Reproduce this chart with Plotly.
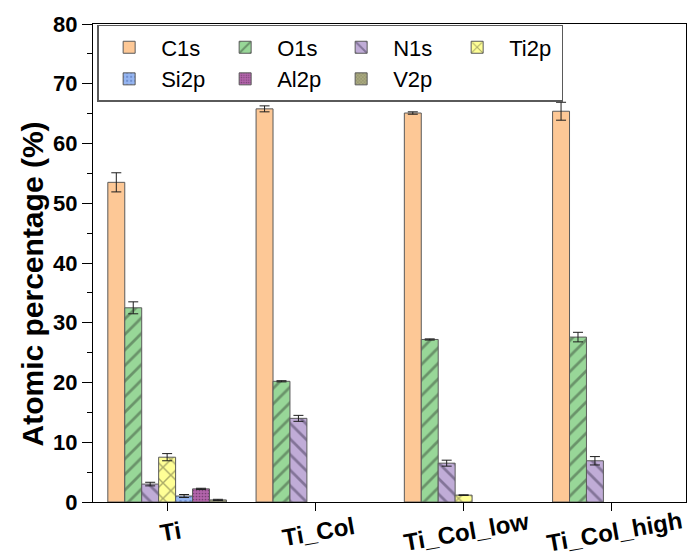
import plotly.graph_objects as go

samples = ["Ti", "Ti_Col", "Ti_Col_low", "Ti_Col_high"]

# Atomic percentages (mean) and standard deviations per core level;
# None marks an element that was not detected on that surface
c1s = [53.5, 65.8, 65.1, 65.4]
c1s_err = [1.6, 0.5, 0.2, 1.5]
o1s = [32.5, 20.2, 27.2, 27.6]
o1s_err = [1.0, 0.1, 0.1, 0.8]
n1s = [3.0, 14.0, 6.5, 6.9]
n1s_err = [0.3, 0.5, 0.5, 0.7]
ti2p = [7.5, None, 1.15, None]
ti2p_err = [0.6, None, 0.05, None]
si2p = [1.0, None, None, None]
si2p_err = [0.25, None, None, None]
al2p = [2.2, None, None, None]
al2p_err = [0.1, None, None, None]
v2p = [0.35, None, None, None]
v2p_err = [0.1, None, None, None]

FONT = "Liberation Sans, Arial, sans-serif"

# name, values, errors, fill colour, hatch shape, hatch colour, hatch size, legend column
series = [
    ("C1s", c1s, c1s_err, "rgb(253,200,150)", "", "rgb(90,90,90)", 8, "col1"),
    ("O1s", o1s, o1s_err, "rgb(152,215,152)", "/", "rgb(60,80,60)", 11, "col2"),
    ("N1s", n1s, n1s_err, "rgb(192,172,215)", "\\", "rgb(70,60,90)", 11, "col3"),
    ("Ti2p", ti2p, ti2p_err, "rgb(255,255,150)", "x", "rgb(90,90,60)", 11, "col4"),
    ("Si2p", si2p, si2p_err, "rgb(150,182,242)", ".", "rgb(70,100,170)", 5, "col1"),
    ("Al2p", al2p, al2p_err, "rgb(178,100,170)", ".", "rgb(60,30,60)", 3, "col2"),
    ("V2p", v2p, v2p_err, "rgb(170,170,128)", "x", "rgb(80,80,50)", 3, "col3"),
]

fig = go.Figure()
for name, vals, errs, color, shape, fg, size, group in series:
    pattern = dict(shape=shape, fgcolor=fg, size=size, solidity=0.25, fillmode="overlay")
    fig.add_trace(go.Bar(
        name=name, x=samples, y=vals, legendgroup=group,
        marker=dict(color=color, line=dict(color="rgb(90,90,90)", width=1), pattern=pattern),
        error_y=dict(type="data", array=errs, visible=True, color="rgb(30,30,30)",
                     thickness=1, width=5),
    ))

# Slightly tilted sample labels under each group
for s in samples:
    fig.add_annotation(
        x=s, y=0, xref="x", yref="paper", text=s, showarrow=False,
        textangle=-10, yanchor="middle", xanchor="center", yshift=-29, xshift=3,
        font=dict(size=24, family=FONT, weight="bold", color="black"),
    )

# Y-axis title
fig.add_annotation(
    x=0, y=0.455, xref="paper", yref="paper", text="Atomic percentage (%)",
    showarrow=False, textangle=-90, xanchor="center", yanchor="middle", xshift=-60,
    font=dict(size=30, family=FONT, weight="bold", color="black"),
)

fig.update_layout(
    width=688, height=558,
    margin=dict(l=93, r=2, t=24, b=56),
    paper_bgcolor="white", plot_bgcolor="white",
    barmode="group", bargap=0.2, bargroupgap=0,
    font=dict(family=FONT, color="black"),
    xaxis=dict(
        range=[-0.5, 3.5], showline=True, linecolor="black", linewidth=1.2, mirror=True,
        ticks="outside", ticklen=8, tickcolor="black", showticklabels=False,
    ),
    yaxis=dict(
        range=[0, 80], tickvals=[0, 10, 20, 30, 40, 50, 60, 70, 80],
        showline=True, linecolor="black", linewidth=1.2, mirror=True, showgrid=False,
        ticks="outside", ticklen=10, tickcolor="black",
        minor=dict(dtick=5, ticks="outside", ticklen=5, tickcolor="black"),
        tickfont=dict(size=22, weight="bold"),
    ),
    legend=dict(
        orientation="h", x=0.007, y=0.998, xanchor="left", yanchor="top",
        bordercolor="rgb(90,90,90)", borderwidth=1.5, bgcolor="white",
        font=dict(size=22), entrywidth=47, itemwidth=54, tracegroupgap=0,
        traceorder="grouped",
    ),
    showlegend=True,
)

fig.write_html("out.html")
